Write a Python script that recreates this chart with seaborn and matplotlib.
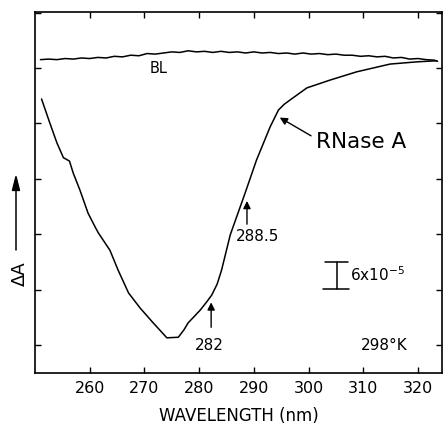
import numpy as np
import pandas as pd
import seaborn as sns
import matplotlib.pyplot as plt

# RNase A difference spectrum (arbitrary units; tick spacing = 1)
rnase_wl = [251.2, 252.7, 254.0, 255.2, 256.3, 257.0, 258.2, 259.7, 261.1, 261.6,
            263.7, 265.2, 267.1, 269.2, 271.6, 273.0, 274.1, 276.2, 277.2, 278.0,
            280.2, 281.4, 282.3, 283.3, 284.1, 285.7, 288.4, 290.5, 293.0, 294.5,
            295.5, 296.6, 299.7, 303.9, 308.8, 314.9, 319.8, 323.4]
rnase_da = [4.44, 4.01, 3.65, 3.38, 3.32, 3.10, 2.80, 2.38, 2.11, 2.02,
            1.71, 1.35, 0.94, 0.67, 0.40, 0.25, 0.13, 0.14, 0.27, 0.40,
            0.63, 0.78, 0.90, 1.10, 1.35, 1.99, 2.74, 3.34, 3.94, 4.24,
            4.34, 4.42, 4.64, 4.78, 4.93, 5.07, 5.11, 5.13]

# baseline (BL)
bl_wl = [251.0, 252.5, 254.0, 255.5, 257.0, 258.5, 260.0, 261.5, 263.0, 264.5,
         266.0, 267.5, 269.0, 270.5, 272.0, 273.5, 275.0, 276.5, 278.0, 279.5,
         281.0, 282.5, 284.0, 285.5, 287.0, 288.5, 290.0, 291.5, 293.0, 294.5,
         296.0, 297.5, 299.0, 300.5, 302.0, 303.5, 305.0, 306.5, 308.0, 309.5,
         311.0, 312.5, 314.0, 315.5, 317.0, 318.5, 320.0, 321.5, 323.0, 323.6]
bl_da = [5.15, 5.16, 5.15, 5.17, 5.16, 5.18, 5.17, 5.19, 5.18, 5.21,
         5.20, 5.23, 5.22, 5.26, 5.25, 5.27, 5.29, 5.28, 5.31, 5.29,
         5.30, 5.28, 5.30, 5.28, 5.29, 5.27, 5.29, 5.27, 5.28, 5.26,
         5.27, 5.25, 5.27, 5.25, 5.26, 5.24, 5.25, 5.23, 5.23, 5.21,
         5.22, 5.20, 5.21, 5.18, 5.19, 5.16, 5.17, 5.15, 5.14, 5.12]

xticks = [260, 270, 280, 290, 300, 310, 320]
yticks = [0, 1, 2, 3, 4, 5, 6]

sns.set_style("ticks")
plt.rcParams['font.family'] = ['DejaVu Sans']
plt.rcParams['mathtext.fontset'] = 'dejavusans'
plt.rcParams['text.color'] = 'black'
plt.rcParams['axes.labelcolor'] = 'black'
plt.rcParams['axes.edgecolor'] = 'black'
plt.rcParams['xtick.color'] = 'black'
plt.rcParams['ytick.color'] = 'black'

fig = plt.figure(figsize=(4.44, 4.28), dpi=100)
ax = fig.add_axes([0.0788, 0.1285, 0.9167, 0.8435])

rn = pd.DataFrame({"wl": rnase_wl, "dA": rnase_da})
bl = pd.DataFrame({"wl": bl_wl, "dA": bl_da})
sns.lineplot(data=rn, x="wl", y="dA", sort=False, estimator=None, color="black", lw=1.1, ax=ax)
sns.lineplot(data=bl, x="wl", y="dA", sort=False, estimator=None, color="black", lw=1.1, ax=ax)

ax.set_xlim(250, 324.4)
ax.set_ylim(-0.505, 6.01)
ax.set_xticks(xticks)
ax.set_xticklabels([str(t) for t in xticks], fontsize=11.5)
ax.set_yticks(yticks)
ax.set_yticklabels([])
ax.tick_params(direction="in", length=4, width=1, top=True, right=True, pad=6)
for s in ax.spines.values():
    s.set_linewidth(1.2)
    s.set_visible(True)

ax.set_xlabel("WAVELENGTH (nm)", fontsize=12, labelpad=8)
ax.set_ylabel("")

# annotations
ax.text(272.5, 4.99, "BL", fontsize=10.5, ha="center", va="center")
ax.annotate("", xy=(294.3, 4.13), xytext=(300.9, 3.75),
            arrowprops=dict(arrowstyle="-|>", color="black", lw=1, mutation_scale=11))
ax.text(301.3, 3.55, "RNase A", fontsize=15.5, ha="left", va="baseline")

ax.annotate("", xy=(288.75, 2.65), xytext=(288.75, 2.13),
            arrowprops=dict(arrowstyle="-|>", color="black", lw=1, mutation_scale=11))
ax.text(290.7, 1.96, "288.5", fontsize=11, ha="center", va="center")

ax.annotate("", xy=(282.2, 0.82), xytext=(282.2, 0.27),
            arrowprops=dict(arrowstyle="-|>", color="black", lw=1, mutation_scale=11))
ax.text(281.9, -0.01, "282", fontsize=11, ha="center", va="center")

ax.text(313.8, -0.01, "298°K", fontsize=11, ha="center", va="center")

# scale bar
ax.plot([305.15, 305.15], [1.01, 1.50], color="black", lw=1.1)
ax.plot([303.0, 307.2], [1.50, 1.50], color="black", lw=1.1)
ax.plot([302.7, 307.4], [1.01, 1.01], color="black", lw=1.1)
ax.text(307.6, 1.27, "6x10$^{-5}$", fontsize=11, ha="left", va="center")

# y label with arrow
fig.text(0.045, 0.36, "ΔA", fontsize=13, rotation=90, ha="center", va="center")
fig.add_artist(plt.Line2D([0.036, 0.036], [0.416, 0.56], color="black", lw=1.1))
fig.patches.append(plt.Polygon([[0.028, 0.555], [0.044, 0.555], [0.036, 0.588]],
                               closed=True, color="black", transform=fig.transFigure))

fig.savefig("out.png", dpi=100)
